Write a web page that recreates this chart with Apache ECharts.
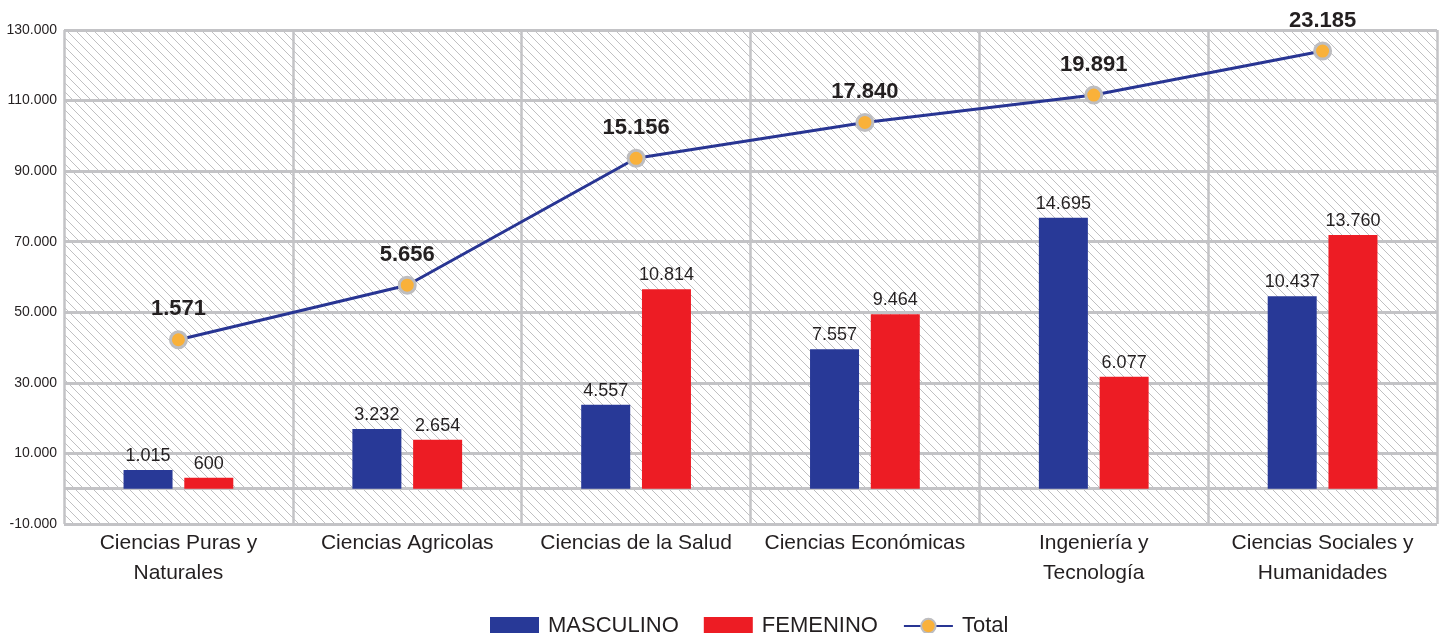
<!DOCTYPE html>
<html>
<head>
<meta charset="utf-8">
<script src="https://cdn.jsdelivr.net/npm/echarts@6/dist/echarts.min.js"></script>
<style>
html,body{margin:0;padding:0;background:#fff;}
#chart{width:1442px;height:633px;}
</style>
</head>
<body>
<div id="chart"></div>
<script>
// ---- data ----
const categories = ['Ciencias Puras y\nNaturales', 'Ciencias Agricolas', 'Ciencias de la Salud', 'Ciencias Económicas', 'Ingeniería y\nTecnología', 'Ciencias Sociales y\nHumanidades'];
const masculino = [1015, 3232, 4557, 7557, 14695, 10437];
const femenino = [600, 2654, 10814, 9464, 6077, 13760];
const total = [1571, 5656, 15156, 17840, 19891, 23185];
const yTickMin = -10000;
const yTickMax = 130000;
const yTickStep = 20000;

function fmt(v) {
  const s = String(Math.abs(Math.round(v))).replace(/\B(?=(\d{3})+(?!\d))/g, '.');
  return (v < 0 ? '-' : '') + s;
}

// hatch pattern
const tile = document.createElement('canvas');
const T = 9;
tile.width = T; tile.height = T;
const g = tile.getContext('2d');
g.fillStyle = '#ffffff';
g.fillRect(0, 0, T, T);
g.strokeStyle = '#b9b9bb';
g.lineWidth = 0.9;
g.beginPath();
g.moveTo(-1, -1); g.lineTo(T + 1, T + 1);
g.moveTo(-1, T - 1); g.lineTo(1, T + 1);
g.moveTo(T - 1, -1); g.lineTo(T + 1, 1);
g.stroke();

const FONT = '"Liberation Sans", Arial, sans-serif';
const TXT = '#231F20';
const GRID = '#C3C3C6';

const chart = echarts.init(document.getElementById('chart'), null, {renderer: 'canvas'});
chart.setOption({
  animation: false,
  backgroundColor: '#ffffff',
  textStyle: {fontFamily: FONT},
  grid: {
    left: 64, right: 5, top: 30, bottom: 109,
    show: true, borderWidth: 0,
    backgroundColor: {image: tile, repeat: 'repeat'}
  },
  legend: {
    left: 485, top: 610,
    itemWidth: 49, itemHeight: 18, itemGap: 25,
    textStyle: {fontFamily: FONT, fontSize: 22, color: TXT, padding: [0, 0, 0, 4]},
    data: [
      {name: 'MASCULINO', icon: 'rect'},
      {name: 'FEMENINO', icon: 'rect'},
      {name: 'Total'}
    ]
  },
  xAxis: {
    type: 'category',
    data: categories,
    boundaryGap: true,
    axisLine: {show: false},
    axisTick: {show: false},
    axisLabel: {fontFamily: FONT, fontSize: 21, color: TXT, lineHeight: 30, margin: 4, interval: 0},
    splitLine: {show: true, lineStyle: {color: GRID, width: 2.5}}
  },
  yAxis: [
    {
      type: 'value', min: yTickMin, max: yTickMax, interval: yTickStep,
      axisLine: {show: false}, axisTick: {show: false},
      axisLabel: {fontFamily: FONT, fontSize: 14, color: TXT, margin: 7, formatter: v => fmt(v)},
      splitLine: {show: true, lineStyle: {color: GRID, width: 3}}
    },
    {type: 'value', show: false, min: -1913, max: 24870, splitLine: {show: false}},
    {type: 'value', show: false, min: -12220, max: 24760, splitLine: {show: false}}
  ],
  series: [
    {
      name: 'MASCULINO', type: 'bar', yAxisIndex: 1, data: masculino,
      barWidth: 49, barGap: '24%',
      itemStyle: {color: '#283997'},
      label: {show: true, position: 'top', distance: 5, fontFamily: FONT, fontSize: 18, color: TXT, formatter: p => fmt(p.value)},
      markLine: {
        silent: true, symbol: 'none', label: {show: false}, z: 1,
        lineStyle: {color: GRID, width: 3, type: 'solid'},
        data: [{yAxis: 0}]
      }
    },
    {
      name: 'FEMENINO', type: 'bar', yAxisIndex: 1, data: femenino,
      barWidth: 49, barGap: '24%',
      itemStyle: {color: '#ED1C24'},
      label: {show: true, position: 'top', distance: 5, fontFamily: FONT, fontSize: 18, color: TXT, formatter: p => fmt(p.value)}
    },
    {
      name: 'Total', type: 'line', yAxisIndex: 2, data: total, z: 5,
      symbol: 'circle', symbolSize: 16,
      lineStyle: {color: '#283593', width: 3},
      itemStyle: {color: '#F9B13A', borderColor: '#BDBDC0', borderWidth: 3},
      label: {show: true, position: 'top', distance: 10, fontFamily: FONT, fontSize: 22, fontWeight: 'bold', color: TXT, formatter: p => fmt(p.value)}
    }
  ]
});
</script>
</body>
</html>
